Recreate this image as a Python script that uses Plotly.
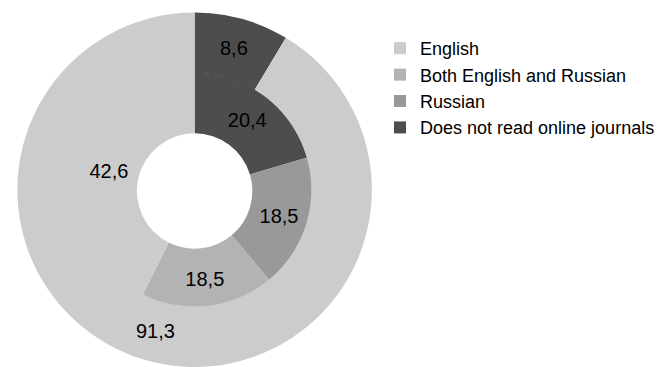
import plotly.graph_objects as go

# listed in clockwise order starting at 12 o'clock
inner_labels = ["Does not read online journals", "Russian", "Both English and Russian", "English"]
inner_values = [20.4, 18.5, 18.5, 42.6]
outer_labels = ["Does not read online journals", "English"]
outer_values = [8.6, 91.3]
colors = {
    "English": "#cccccc",
    "Both English and Russian": "#b3b3b3",
    "Russian": "#999999",
    "Does not read online journals": "#4d4d4d",
}

W, H = 660, 367
cx, cy_top = 195.5, 191.0
R_out, R_mid, R_in = 178.5, 119.0, 58.0

def dom(r):
    return dict(x=[max(0, (cx - r) / W), (cx + r) / W],
                y=[max(0, 1 - (cy_top + r) / H), min(1, 1 - (cy_top - r) / H)])

font = dict(family="Liberation Sans, Arial, sans-serif", color="#000000")

fig = go.Figure()
fig.add_trace(go.Pie(
    labels=inner_labels, values=inner_values,
    marker=dict(colors=[colors[c] for c in inner_labels], line=dict(width=0)),
    hole=R_in / R_mid, sort=False, direction="clockwise", rotation=0,
    textinfo="value", textposition="inside", insidetextorientation="horizontal",
    textfont=dict(size=20, **font), domain=dom(R_mid), hoverinfo="label+value",
))
fig.add_trace(go.Pie(
    labels=outer_labels, values=outer_values,
    marker=dict(colors=[colors[c] for c in outer_labels], line=dict(width=0)),
    hole=(R_mid - 1.5) / R_out, sort=False, direction="clockwise", rotation=0,
    textinfo="value", textposition="inside", insidetextorientation="horizontal",
    textfont=dict(size=20, **font), domain=dom(R_out), hoverinfo="label+value",
))
fig.update_layout(
    width=W, height=H,
    margin=dict(l=0, r=0, t=0, b=0),
    paper_bgcolor="white", plot_bgcolor="white",
    separators=", ",
    font=dict(size=18, **font),
    legend=dict(x=382 / W, y=1 - 30 / H, xanchor="left", yanchor="top",
                font=dict(size=18, **font), traceorder="reversed"),
    showlegend=True,
)
fig.write_html("out.html", config={"displayModeBar": False},
               post_script="document.body.style.margin='0';")
